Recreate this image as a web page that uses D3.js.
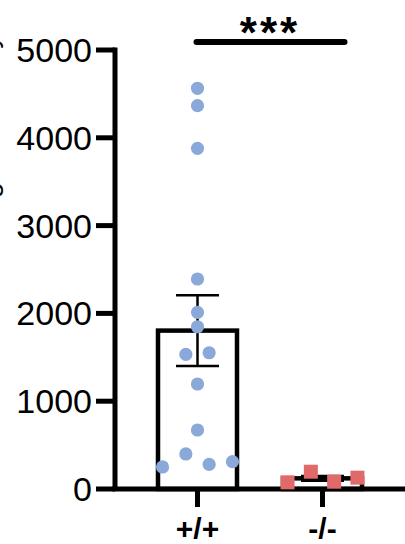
<!DOCTYPE html>
<html>
<head>
<meta charset="utf-8">
<script src="https://cdn.jsdelivr.net/npm/d3@7/dist/d3.min.js"></script>
<style>
  html, body { margin: 0; padding: 0; background: #fff; }
  svg { display: block; }
</style>
</head>
<body>
<svg id="chart" width="405" height="544"></svg>
<script>
// Genotype groups shown on the x axis
const groups = ["+/+", "-/-"];
// Individual measurements for each genotype
const wildType = [4564, 4366, 3880, 2392, 2012, 1848, 1534, 1552, 1196, 672, 251, 399, 281, 311];
const knockOut = [76, 197, 83, 129];
// Y axis ticks
const yTicks = [0, 1000, 2000, 3000, 4000, 5000];
const yTitle = "Signal intensity";
const significance = "***";

const svg = d3.select("#chart");
const W = 405, H = 544;

const y = d3.scaleLinear().domain([0, 5000]).range([489, 50]);
const x = d3.scalePoint().domain(groups).range([197.5, 322.5]);
const barWidth = 79;
const font = "'Liberation Sans', Arial, Helvetica, sans-serif";

const series = [
  { key: "+/+", values: wildType, color: "#8aa9d9", shape: "circle" },
  { key: "-/-", values: knockOut, color: "#e06a6a", shape: "square" }
];
series.forEach(s => {
  s.mean = d3.mean(s.values);
  s.sem = d3.deviation(s.values) / Math.sqrt(s.values.length);
});

// Bars (mean)
svg.append("g").selectAll("rect").data(series).join("rect")
  .attr("x", d => x(d.key) - barWidth / 2)
  .attr("y", d => y(d.mean))
  .attr("width", barWidth)
  .attr("height", d => y(0) - y(d.mean))
  .attr("fill", "#fff")
  .attr("stroke", "#000")
  .attr("stroke-width", 4.5);

// Error bars (mean ± SEM)
const capW = 43;
const eb = svg.append("g").attr("stroke", "#000").attr("stroke-width", 2.5);
series.forEach(s => {
  const cx = x(s.key), top = y(s.mean + s.sem), bot = y(s.mean - s.sem);
  eb.append("line").attr("x1", cx).attr("x2", cx).attr("y1", top).attr("y2", bot);
  eb.append("line").attr("x1", cx - capW / 2).attr("x2", cx + capW / 2).attr("y1", top).attr("y2", top);
  eb.append("line").attr("x1", cx - capW / 2).attr("x2", cx + capW / 2).attr("y1", bot).attr("y2", bot);
});

// Axes
const axisG = svg.append("g").attr("stroke", "#000").attr("stroke-width", 5).attr("fill", "none");
const axisX = 115;
axisG.append("line").attr("x1", axisX).attr("x2", axisX).attr("y1", y(5000) - 2.5).attr("y2", y(0));
axisG.append("line").attr("x1", axisX - 2.5).attr("x2", W + 5).attr("y1", y(0)).attr("y2", y(0));
axisG.selectAll(".yt").data(yTicks).join("line")
  .attr("x1", axisX - 19).attr("x2", axisX)
  .attr("y1", d => y(d)).attr("y2", d => y(d));
axisG.selectAll(".xt").data(groups).join("line")
  .attr("x1", d => x(d)).attr("x2", d => x(d))
  .attr("y1", y(0)).attr("y2", y(0) + 18);

svg.append("g").selectAll("text").data(yTicks).join("text")
  .attr("x", 92)
  .attr("y", d => y(d) + 12)
  .attr("text-anchor", "end")
  .attr("font-family", font)
  .attr("font-size", 34)
  .attr("fill", "#000")
  .text(d => d);

svg.append("g").selectAll("text").data(groups).join("text")
  .attr("x", d => x(d))
  .attr("y", 539)
  .attr("text-anchor", "middle")
  .attr("font-family", font)
  .attr("font-size", 30)
  .attr("font-weight", "bold")
  .attr("fill", "#000")
  .text(d => d);

// Y axis title (runs off the left edge)
svg.append("text")
  .attr("transform", "translate(-2.6,223) rotate(-90)")
  .attr("text-anchor", "start")
  .attr("font-family", font)
  .attr("font-size", 28)
  .attr("fill", "#000")
  .text(yTitle);

// Individual points: values that overlap vertically are spread side by side
const dotR = 6.6, sq = 14, laneStep = 23.3, overlap = 13.5;
function spread(values, cx) {
  const order = d3.range(values.length).sort((a, b) => values[a] - values[b]);
  const clusters = [];
  let cur = [];
  order.forEach(i => {
    if (cur.length && Math.abs(y(values[i]) - y(values[cur[cur.length - 1]])) >= overlap) {
      clusters.push(cur); cur = [];
    }
    cur.push(i);
  });
  if (cur.length) clusters.push(cur);
  const pos = new Array(values.length);
  clusters.forEach(c => {
    c.sort((a, b) => a - b);
    c.forEach((i, k) => { pos[i] = cx + (k - (c.length - 1) / 2) * laneStep; });
  });
  return values.map((v, i) => ({ v, px: pos[i], py: y(v) }));
}

series.forEach(s => {
  const pts = spread(s.values, x(s.key));
  const g = svg.append("g").attr("fill", s.color);
  if (s.shape === "circle") {
    g.selectAll("circle").data(pts).join("circle")
      .attr("cx", d => d.px).attr("cy", d => d.py).attr("r", dotR);
  } else {
    g.selectAll("rect").data(pts).join("rect")
      .attr("x", d => d.px - sq / 2).attr("y", d => d.py - sq / 2)
      .attr("width", sq).attr("height", sq);
  }
});

// Significance bracket
svg.append("line")
  .attr("x1", x("+/+") - 1).attr("x2", x("-/-") + 22)
  .attr("y1", 42).attr("y2", 42)
  .attr("stroke", "#000").attr("stroke-width", 6).attr("stroke-linecap", "round");
svg.append("text")
  .attr("x", 270).attr("y", 48)
  .attr("text-anchor", "middle")
  .attr("font-family", font)
  .attr("font-size", 44)
  .attr("font-weight", "bold")
  .attr("letter-spacing", 3)
  .attr("fill", "#000")
  .text(significance);
</script>
</body>
</html>
